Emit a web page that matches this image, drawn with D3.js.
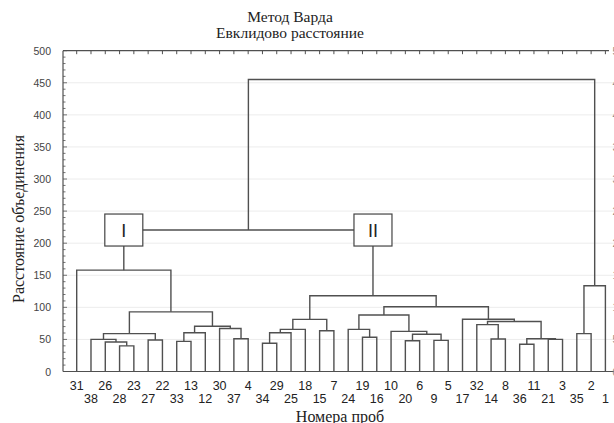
<!DOCTYPE html>
<html>
<head>
<meta charset="utf-8">
<script src="https://cdn.jsdelivr.net/npm/d3@7"></script>
<style>
  body { margin: 0; background: #fff; }
  svg { display: block; }
</style>
</head>
<body>
<svg width="614" height="423"></svg>
<script>
const width = 614;
const height = 423;
const svg = d3.select("svg");

// leaf order along the x axis
const leaves = ["31", "38", "26", "28", "23", "27", "22", "33", "13", "12", "30", "37", "4",
  "34", "29", "25", "18", "15", "7", "24", "19", "16", "10", "20", "6", "9", "5",
  "17", "32", "14", "8", "36", "11", "21", "3", "35", "2", "1"];

// merges: [left, right, distance]; merge i gets the id "m" + i
const merges = [
  ["28", "23", 40],   // m0
  ["26", "m0", 46],   // m1
  ["38", "m1", 50],   // m2
  ["27", "22", 49],   // m3
  ["m2", "m3", 59],   // m4
  ["33", "13", 47],   // m5
  ["m5", "12", 60.5], // m6
  ["37", "4", 51],    // m7
  ["30", "m7", 67],   // m8
  ["m6", "m8", 70.5], // m9
  ["m4", "m9", 93],   // m10
  ["31", "m10", 158], // m11  (I)
  ["34", "29", 44],   // m12
  ["m12", "25", 60.5],// m13
  ["m13", "18", 65.7],// m14
  ["15", "7", 63.6],  // m15
  ["m14", "m15", 81.3],// m16
  ["19", "16", 53.3], // m17
  ["24", "m17", 65.7],// m18
  ["20", "6", 48],    // m19
  ["9", "5", 48.5],   // m20
  ["m19", "m20", 58], // m21
  ["10", "m21", 62.5],// m22
  ["m18", "m22", 88], // m23
  ["14", "8", 50.6],  // m24
  ["32", "m24", 73],  // m25
  ["36", "11", 42.4], // m26
  ["21", "3", 50],    // m27
  ["m26", "m27", 51], // m28
  ["m25", "m28", 78], // m29
  ["17", "m29", 81.5],// m30
  ["m23", "m30", 101],// m31
  ["m16", "m31", 118],// m32  (II)
  ["m11", "m32", 220.5],// m33
  ["35", "2", 59],    // m34
  ["m34", "1", 133.7],// m35
  ["m33", "m35", 455] // m36
];

const yTicks = [0, 50, 100, 150, 200, 250, 300, 350, 400, 450, 500];
const clusterLabels = [["m11", "I"], ["m32", "II"]];

const titleLines = ["Метод Варда", "Евклидово расстояние"];
const yTitle = "Расстояние объединения";
const xTitle = "Номера проб";

const plotLeft = 63, plotRight = 609, plotTop = 50.7, plotBottom = 371.5;
const lineColor = "#505050";

const x = d3.scalePoint().domain(leaves).range([76.7, 605.4]);
const y = d3.scaleLinear().domain([0, 500]).range([plotBottom, plotTop]);

// build the tree
const byId = new Map(leaves.map(id => [id, { name: id, dist: 0 }]));
merges.forEach(([a, b, h], i) => {
  byId.set("m" + i, { name: "m" + i, dist: h, children: [byId.get(a), byId.get(b)] });
});
const root = d3.hierarchy(byId.get("m" + (merges.length - 1)));
root.eachAfter(d => {
  d.px = d.children ? d3.mean(d.children, c => c.px) : x(d.data.name);
  d.py = y(d.data.dist);
});

// faint grid
svg.append("g")
  .selectAll("line")
  .data(yTicks.slice(1, -1))
  .join("line")
  .attr("x1", plotLeft).attr("x2", width)
  .attr("y1", d => y(d)).attr("y2", d => y(d))
  .attr("stroke", "#ececec");

// frame
svg.append("line").attr("x1", plotLeft).attr("x2", plotRight).attr("y1", plotTop).attr("y2", plotTop)
  .attr("stroke", lineColor).attr("stroke-width", 1.2);
svg.append("line").attr("x1", plotLeft).attr("x2", plotLeft).attr("y1", plotTop).attr("y2", plotBottom)
  .attr("stroke", lineColor).attr("stroke-width", 1.2);
svg.append("line").attr("x1", plotLeft).attr("x2", width).attr("y1", plotBottom).attr("y2", plotBottom)
  .attr("stroke", lineColor).attr("stroke-width", 1.2);

// top ticks at leaf positions
svg.append("g")
  .selectAll("line")
  .data(leaves)
  .join("line")
  .attr("x1", d => x(d)).attr("x2", d => x(d))
  .attr("y1", plotTop).attr("y2", plotTop + 3.5)
  .attr("stroke", lineColor);

// left axis minor ticks
svg.append("g")
  .selectAll("line")
  .data(d3.range(0, 501, 10))
  .join("line")
  .attr("x1", plotLeft).attr("x2", d => plotLeft + (d % 50 === 0 ? 4 : 2.5))
  .attr("y1", d => y(d)).attr("y2", d => y(d))
  .attr("stroke", lineColor).attr("stroke-width", 0.8);

// y tick labels (left, and the right copy that the window cuts off)
svg.append("g")
  .selectAll("text")
  .data(yTicks)
  .join("text")
  .attr("x", 51).attr("y", d => y(d) + 4)
  .attr("text-anchor", "end")
  .attr("font-family", "Liberation Sans, Arial, sans-serif")
  .attr("font-size", 10.5)
  .attr("fill", "#444")
  .text(d => d);
svg.append("g")
  .selectAll("text")
  .data(yTicks)
  .join("text")
  .attr("x", 612.5).attr("y", d => y(d) + 4)
  .attr("font-family", "Liberation Sans, Arial, sans-serif")
  .attr("font-size", 10.5)
  .attr("fill", "#888")
  .text(d => d);

// dendrogram links
svg.append("g")
  .selectAll("path")
  .data(root.descendants().filter(d => d.children))
  .join("path")
  .attr("fill", "none")
  .attr("stroke", lineColor)
  .attr("stroke-width", 1.4)
  .attr("d", d => {
    const [a, b] = d.children;
    return `M${a.px},${a.py}V${d.py}H${b.px}V${b.py}`;
  });

// cluster boxes
const nodeById = new Map(root.descendants().map(d => [d.data.name, d]));
const boxY = y(byId.get("m33").dist);
const box = svg.append("g")
  .selectAll("g")
  .data(clusterLabels)
  .join("g")
  .attr("transform", d => `translate(${nodeById.get(d[0]).px},${boxY})`);
box.append("rect")
  .attr("x", -19).attr("y", -16).attr("width", 38).attr("height", 32)
  .attr("fill", "#fff").attr("stroke", "#444").attr("stroke-width", 1.2);
box.append("text")
  .attr("y", 6.5)
  .attr("text-anchor", "middle")
  .attr("font-family", "Liberation Sans, Arial, sans-serif")
  .attr("font-size", 18)
  .attr("fill", "#222")
  .text(d => d[1]);

// leaf labels in two rows
svg.append("g")
  .selectAll("text")
  .data(leaves)
  .join("text")
  .attr("x", d => x(d))
  .attr("y", (d, i) => i % 2 === 0 ? 389.5 : 402.5)
  .attr("text-anchor", "middle")
  .attr("font-family", "Liberation Sans, Arial, sans-serif")
  .attr("font-size", 12.5)
  .attr("fill", "#222")
  .text(d => d);

// titles
svg.append("g")
  .selectAll("text")
  .data(titleLines)
  .join("text")
  .attr("x", 290).attr("y", (d, i) => 22 + i * 16)
  .attr("text-anchor", "middle")
  .attr("font-family", "Liberation Serif, Times New Roman, serif")
  .attr("font-size", 15.5)
  .attr("fill", "#222")
  .text(d => d);

svg.append("text")
  .attr("transform", `translate(24,219) rotate(-90)`)
  .attr("text-anchor", "middle")
  .attr("font-family", "Liberation Serif, Times New Roman, serif")
  .attr("font-size", 16)
  .attr("fill", "#222")
  .text(yTitle);

svg.append("text")
  .attr("x", 340).attr("y", 422)
  .attr("text-anchor", "middle")
  .attr("font-family", "Liberation Serif, Times New Roman, serif")
  .attr("font-size", 16)
  .attr("fill", "#222")
  .text(xTitle);
</script>
</body>
</html>
